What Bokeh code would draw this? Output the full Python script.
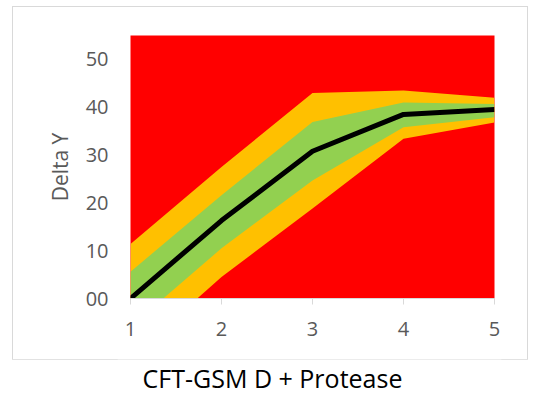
from bokeh.plotting import figure
from bokeh.models import Range1d, FixedTicker, Label
from bokeh.layouts import column
from bokeh.embed import file_html
from bokeh.resources import INLINE

# ---- data ----
x_vals = [1, 2, 3, 4, 5]
center = [0.0, 16.3, 30.8, 38.5, 39.5]
green_hi = [5.6, 21.6, 36.9, 41.0, 40.7]
green_lo = [-5.9, 10.5, 24.7, 35.8, 37.9]
orange_hi = [11.4, 27.5, 43.0, 43.5, 42.0]
orange_lo = [-12.4, 4.5, 18.8, 33.4, 36.8]
y_ticks = [0, 10, 20, 30, 40, 50]
y_tick_labels = ["00", "10", "20", "30", "40", "50"]
x_ticks = [1, 2, 3, 4, 5]
title_text = "CFT-GSM D + Protease"
y_label = "Delta Y"

FONT = "Open Sans"
GRAY = "#595959"
BORDER_L, BORDER_R = 117, 33

# chart box (outlined) at page x 13..527, y 6..359
p = figure(width=514, height=352, output_backend="svg", toolbar_location=None,
           x_range=Range1d(1, 5), y_range=Range1d(0, 55),
           min_border_left=BORDER_L, min_border_right=BORDER_R,
           min_border_top=28, min_border_bottom=61)
p.margin = (7, 7, 0, 13)
p.styles = {"outline": "1.5px solid #d9d9d9", "outline-offset": "0px"}
p.background_fill_color = "#ff0000"
p.border_fill_color = "white"
p.outline_line_color = None
p.grid.visible = False

p.varea(x=x_vals, y1=orange_lo, y2=orange_hi, fill_color="#ffc000")
p.varea(x=x_vals, y1=green_lo, y2=green_hi, fill_color="#92d050")
p.line(x=x_vals, y=center, line_color="black", line_width=5)

# x axis
p.xaxis.ticker = FixedTicker(ticks=x_ticks)
p.xaxis.axis_line_color = "#d9d9d9"
p.xaxis.major_tick_line_color = "#d9d9d9"
p.xaxis.major_tick_out = 6
p.xaxis.major_tick_in = 0
p.xaxis.minor_tick_line_color = None
p.xaxis.major_label_text_font = FONT
p.xaxis.major_label_text_font_size = "20px"
p.xaxis.major_label_text_color = GRAY
p.xaxis.major_label_standoff = 17

# y axis
p.yaxis.ticker = FixedTicker(ticks=y_ticks)
p.yaxis.major_label_overrides = {t: s for t, s in zip(y_ticks, y_tick_labels)}
p.yaxis.axis_line_color = None
p.yaxis.major_tick_line_color = None
p.yaxis.minor_tick_line_color = None
p.yaxis.major_tick_out = 0
p.yaxis.major_label_text_font = FONT
p.yaxis.major_label_text_font_size = "20px"
p.yaxis.major_label_text_color = GRAY
p.yaxis.major_label_standoff = 22
p.yaxis.axis_label = y_label
p.yaxis.axis_label_text_font = FONT
p.yaxis.axis_label_text_font_size = "21px"
p.yaxis.axis_label_text_font_style = "normal"
p.yaxis.axis_label_text_color = GRAY
p.yaxis.axis_label_standoff = 9

# caption strip below the chart box (page y 359..396); borders match the chart
# so that the column's frame alignment leaves both frames unchanged
cap = figure(width=534, height=37, output_backend="svg", toolbar_location=None,
             x_range=Range1d(0, 1), y_range=Range1d(0, 1),
             x_axis_location=None, y_axis_location=None,
             min_border_left=BORDER_L, min_border_right=BORDER_R,
             min_border_top=0, min_border_bottom=0)
cap.margin = (0, 0, 0, 0)
cap.grid.visible = False
cap.outline_line_color = None
cap.background_fill_color = "white"
cap.border_fill_color = "white"
cap.add_layout(Label(x=272 - BORDER_L, y=18.5, x_units="screen", y_units="screen",
                     text=title_text, text_align="center", text_baseline="middle",
                     text_font=FONT, text_font_size="25px", text_color="black"))

layout = column(p, cap, spacing=0)
open("out.html", "w").write(file_html(layout, INLINE))
